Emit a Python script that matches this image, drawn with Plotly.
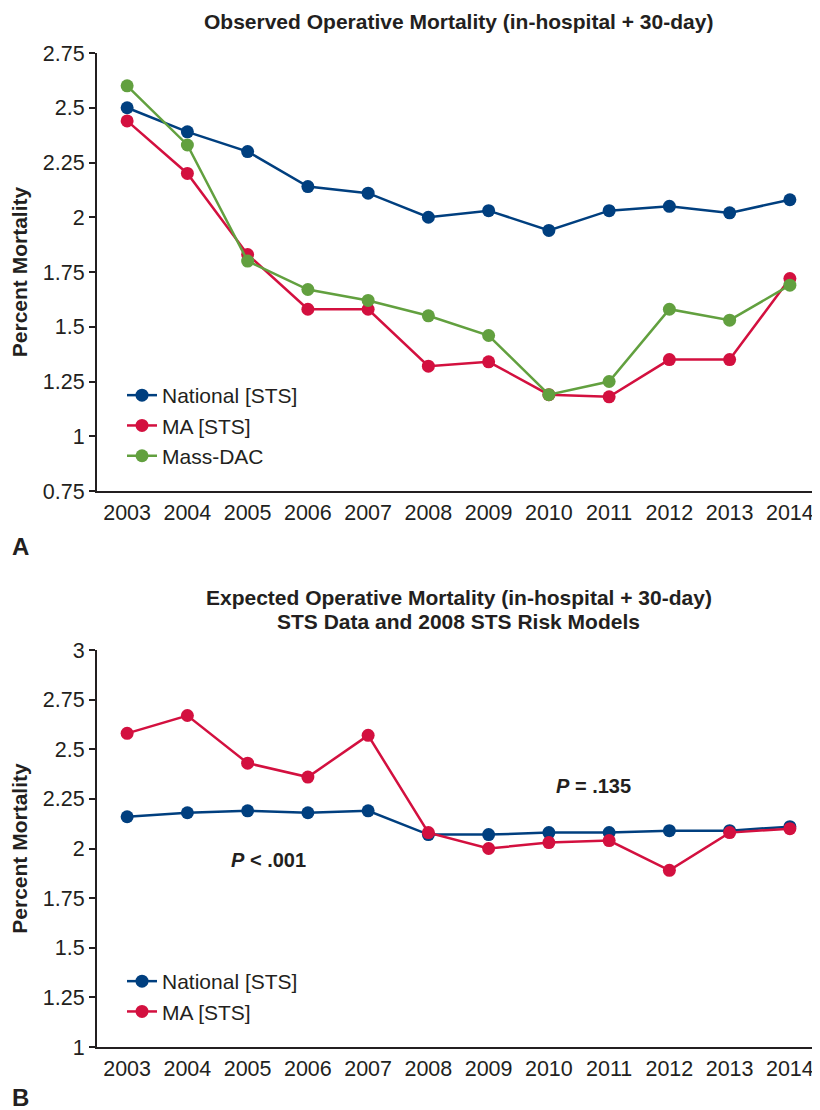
import plotly.graph_objects as go

years = ["2003", "2004", "2005", "2006", "2007", "2008", "2009", "2010", "2011", "2012", "2013", "2014"]

# Panel A: observed operative mortality (%)
obs_national = [2.50, 2.39, 2.30, 2.14, 2.11, 2.00, 2.03, 1.94, 2.03, 2.05, 2.02, 2.08]
obs_ma = [2.44, 2.20, 1.83, 1.58, 1.58, 1.32, 1.34, 1.19, 1.18, 1.35, 1.35, 1.72]
obs_massdac = [2.60, 2.33, 1.80, 1.67, 1.62, 1.55, 1.46, 1.19, 1.25, 1.58, 1.53, 1.69]

# Panel B: expected operative mortality (%)
exp_national = [2.16, 2.18, 2.19, 2.18, 2.19, 2.07, 2.07, 2.08, 2.08, 2.09, 2.09, 2.11]
exp_ma = [2.58, 2.67, 2.43, 2.36, 2.57, 2.08, 2.00, 2.03, 2.04, 1.89, 2.08, 2.10]

ticks_a = [0.75, 1, 1.25, 1.5, 1.75, 2, 2.25, 2.5, 2.75]
ticks_b = [1, 1.25, 1.5, 1.75, 2, 2.25, 2.5, 2.75, 3]

NAVY = "#003f7f"
RED = "#d3103f"
GREEN = "#62a03f"
AXC = "#231f20"
FONT = "Liberation Sans, Arial, sans-serif"

OFF = 8  # page body margin
W, H = 820 - OFF, 1110 - OFF


def px_x(p):
    return (p - OFF) / W


def px_y(p):
    return 1 - (p - OFF) / H


fig = go.Figure()


def add(x, y, name, color, xa, ya, legend):
    fig.add_trace(go.Scatter(
        x=x, y=y, name=name, mode="lines+markers",
        line=dict(color=color, width=2.5),
        marker=dict(color=color, size=13),
        xaxis=xa, yaxis=ya, legend=legend,
    ))


add(years, obs_national, "National [STS]", NAVY, "x", "y", "legend")
add(years, obs_ma, "MA [STS]", RED, "x", "y", "legend")
add(years, obs_massdac, "Mass-DAC", GREEN, "x", "y", "legend")
add(years, exp_national, "National [STS]", NAVY, "x2", "y2", "legend2")
add(years, exp_ma, "MA [STS]", RED, "x2", "y2", "legend2")

xdom = [px_x(97), 1.0]

xcommon = dict(
    type="category", range=[-0.5, 11.5], domain=xdom,
    showline=True, linecolor=AXC, linewidth=2,
    ticks="outside", ticklen=1, tickcolor="rgba(0,0,0,0)",
    showgrid=False, zeroline=False,
    tickfont=dict(family=FONT, size=21.5, color=AXC),
    automargin=False,
)
ycommon = dict(
    showline=True, linecolor=AXC, linewidth=2,
    ticks="outside", ticklen=6, tickwidth=2, tickcolor=AXC,
    showgrid=False, zeroline=False,
    tickfont=dict(family=FONT, size=21.5, color=AXC),
    title=dict(text="<b>Percent Mortality</b>", font=dict(family=FONT, size=21, color=AXC), standoff=12),
    automargin=False,
)

fig.update_layout(
    width=W, height=H,
    margin=dict(l=0, r=0, t=0, b=0),
    paper_bgcolor="white", plot_bgcolor="white",
    font=dict(family=FONT, color=AXC),
    xaxis=dict(**xcommon, anchor="y"),
    yaxis=dict(**ycommon, domain=[px_y(491), px_y(53)], range=[0.75, 2.75],
               tickvals=ticks_a, ticktext=[f"{t:g}" for t in ticks_a], anchor="x"),
    xaxis2=dict(**xcommon, anchor="y2"),
    yaxis2=dict(**ycommon, domain=[px_y(1047), px_y(650)], range=[1, 3],
                tickvals=ticks_b, ticktext=[f"{t:g}" for t in ticks_b], anchor="x2"),
    legend=dict(x=px_x(122), y=px_y(375), xanchor="left", yanchor="top",
                font=dict(family=FONT, size=21, color=AXC), bgcolor="rgba(0,0,0,0)",
                tracegroupgap=0),
    legend2=dict(x=px_x(122), y=px_y(961), xanchor="left", yanchor="top",
                 font=dict(family=FONT, size=21, color=AXC), bgcolor="rgba(0,0,0,0)",
                 tracegroupgap=0),
    showlegend=True,
)

ann = [
    ("<b>Observed Operative Mortality (in-hospital + 30-day)</b>", 459, 22, 21),
    ("<b>Expected Operative Mortality (in-hospital + 30-day)</b>", 459, 597, 21),
    ("<b>STS Data and 2008 STS Risk Models</b>", 459, 621, 21),
    ("<b>A</b>", 20, 546, 24),
    ("<b>B</b>", 20, 1097, 24),
    ("<b><i>P</i> < .001</b>", 268, 860, 20),
    ("<b><i>P</i> = .135</b>", 593, 786, 20),
]
for text, x, y, size in ann:
    fig.add_annotation(xref="paper", yref="paper", showarrow=False,
                       xanchor="center", yanchor="middle",
                       text=text, x=px_x(x), y=px_y(y),
                       font=dict(family=FONT, color=AXC, size=size))

fig.write_html("out.html")
